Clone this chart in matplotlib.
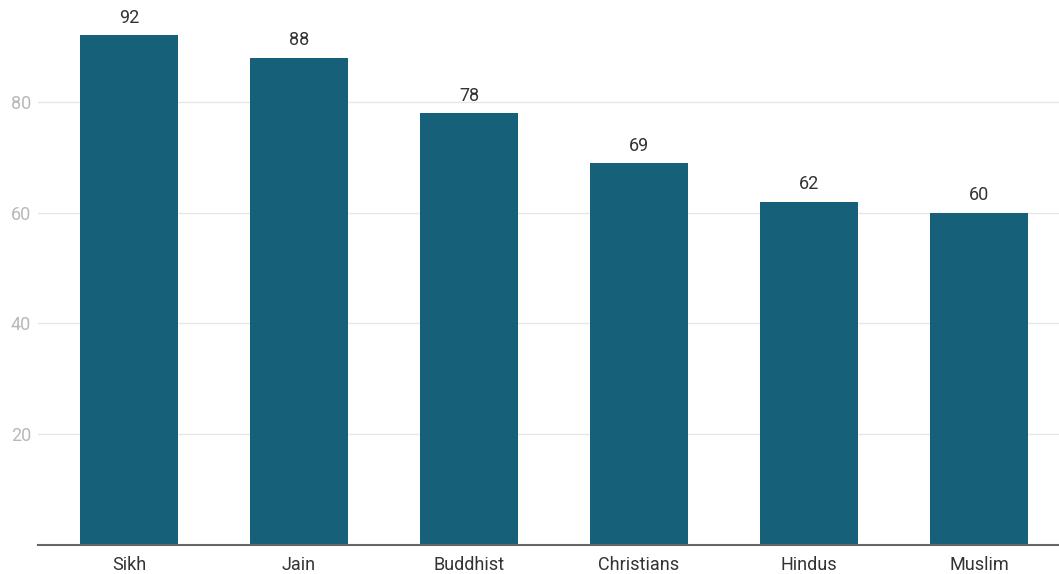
import matplotlib.pyplot as plt

categories = ["Sikh", "Jain", "Buddhist", "Christians", "Hindus", "Muslim"]
values = [92, 88, 78, 69, 62, 60]
yticks = [20, 40, 60, 80]

plt.rcParams['font.family'] = ['Roboto', 'DejaVu Sans']

fig = plt.figure(figsize=(10.59, 5.74), dpi=100)
ax = fig.add_axes([38 / 1059, 29 / 574, 1 - 38 / 1059, 545 / 574])

x = range(len(categories))
bars = ax.bar(x, values, width=0.576, color="#17607a", zorder=3)
for xi, v in zip(x, values):
    ax.text(xi, v + 1.5, str(v), ha="center", va="bottom", fontsize=13, color="#333333")

ax.set_xlim(-0.535, 5.47)
ax.set_ylim(0, 98.4)
ax.set_yticks(yticks)
ax.set_xticks(list(x))
ax.set_xticklabels(categories, fontsize=13, color="#333333")
ax.tick_params(axis="y", length=0, labelsize=13, labelcolor="#b8b8b8", pad=5)
ax.tick_params(axis="x", length=0, pad=8)
ax.grid(axis="y", color="#e6e6e6", linewidth=1, zorder=0)
for s in ["top", "right", "left"]:
    ax.spines[s].set_visible(False)
ax.spines["bottom"].set_color("#666666")
ax.spines["bottom"].set_linewidth(1.5)
ax.spines["bottom"].set_zorder(4)

fig.savefig("out.png", dpi=100)
